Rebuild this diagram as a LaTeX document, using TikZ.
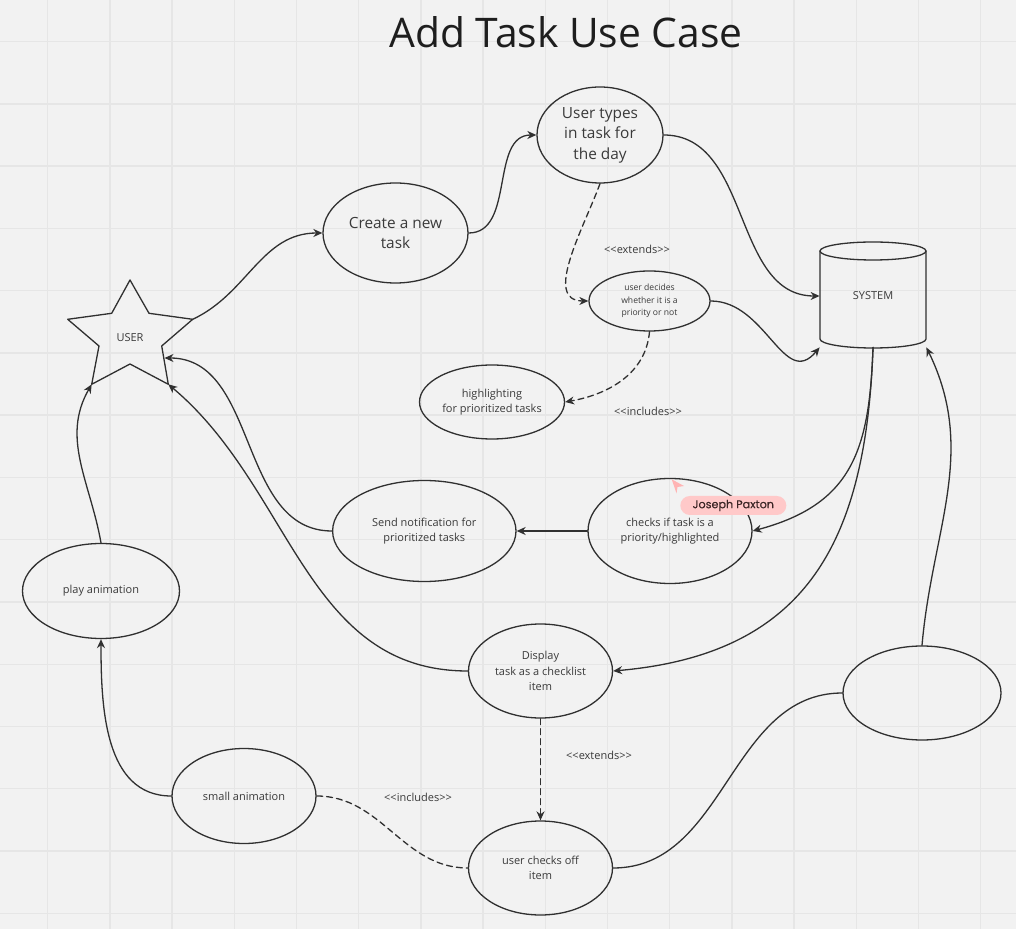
\documentclass[tikz,border=0pt]{standalone}
\usepackage{fontspec}
\setmainfont{Open Sans}
\newfontfamily\tagfont{Poppins}[FakeBold=0.35]
\usetikzlibrary{arrows.meta,shapes.geometric}
\definecolor{bgcol}{HTML}{F2F2F2}
\definecolor{gridcol}{HTML}{E6E6E6}
\definecolor{inkcol}{HTML}{303030}
\definecolor{textcol}{HTML}{3A3A3A}
\definecolor{titlecol}{HTML}{1E1E1E}
\definecolor{tagpink}{HTML}{FFC9C9}
\definecolor{cursorpink}{HTML}{FFB4B4}
\definecolor{tagtext}{HTML}{3B2626}
\newcommand{\stereo}[1]{<\kern0pt<#1>\kern0pt>}

\begin{document}
\begin{tikzpicture}[line cap=round,line join=round,x=0.5pt,y=-0.5pt,
	ucase/.style={draw=inkcol,line width=0.65pt,ellipse,inner sep=0pt,align=center,text=textcol},
	txtbig/.style={font=\fontsize{7.7}{10.3}\selectfont},
	txtsmall/.style={font=\fontsize{5.5}{7.8}\selectfont},
	txttiny/.style={font=\fontsize{4.3}{6.25}\selectfont},
	assoc/.style={draw=inkcol,line width=0.65pt,-{Stealth[length=4.5pt,width=4pt]}},
	assocplain/.style={draw=inkcol,line width=0.65pt},
	dashrel/.style={dash pattern=on 3pt off 2pt}]
			\useasboundingbox (0,0) rectangle (1016,929);
			\fill [bgcol] (0,0) rectangle (1016,929);
			\foreach \gx in {0,...,15}
				\draw [gridcol,line width=0.7pt] ({47.6+62.2*\gx},0)-- ({47.6+62.2*\gx},929);
			\foreach \gy in {0,...,14}
				\draw [gridcol,line width=0.7pt] (0,{41.7+62.25*\gy})-- (1016,{41.7+62.25*\gy});
			\node [font=\fontsize{20.4}{24}\selectfont,text=titlecol] (title) at (566,32) {Add Task Use Case};
			% actor
			\coordinate (user-top) at (130,280);
			\coordinate (user-iur) at (149,313.3);
			\coordinate (user-ur) at (192.7,319.3);
			\coordinate (user-ir) at (161.7,346);
			\coordinate (user-lr) at (168.3,384.3);
			\coordinate (user-ib) at (130,364);
			\coordinate (user-ll) at (91.7,384.3);
			\coordinate (user-il) at (99,346);
			\coordinate (user-ul) at (67.7,319.3);
			\coordinate (user-iul) at (111.7,313.3);
			\coordinate (user-r) at (164.5,358);
			\draw [inkcol,line width=0.65pt] (user-top)-- (user-iur)-- (user-ur)-- (user-ir)-- (user-lr)-- (user-ib)-- (user-ll)-- (user-il)-- (user-ul)-- (user-iul)-- cycle;
			\node [txtsmall,text=textcol] (user) at (130,338) {USER};
			% system
			\draw [inkcol,line width=0.65pt] (820,251)-- (820,339) arc [start angle=180,end angle=360,x radius=26.5pt,y radius=4.5pt]-- (926,251);
			\draw [inkcol,line width=0.65pt] (873,251) ellipse [x radius=26.5pt,y radius=4.5pt];
			\node [txtsmall,text=textcol,minimum width=53pt,minimum height=51pt,inner sep=0pt] (system) at (873,296) {SYSTEM};
			% use cases
			\node [ucase,txtbig,minimum width=72.5pt,minimum height=50pt] (create) at (395.5,233) {Create a new\\task};
			\node [ucase,txtbig,minimum width=63pt,minimum height=48pt] (types) at (600,135) {User types\\in task for\\the day};
			\node [ucase,txttiny,minimum width=60.5pt,minimum height=30pt] (decides) at (649.5,301) {user decides\\whether it is a\\priority or not};
			\node [ucase,txtsmall,minimum width=72.5pt,minimum height=37pt] (highlight) at (492,402) {highlighting\\for prioritized tasks};
			\node [ucase,txtsmall,minimum width=91.7pt,minimum height=50.5pt] (notify) at (424.3,531) {Send notification for\\prioritized tasks};
			\node [ucase,txtsmall,minimum width=82pt,minimum height=52.5pt] (checks) at (670,531) {checks if task is a\\priority/highlighted};
			\node [ucase,txtsmall,minimum width=78.5pt,minimum height=47.5pt] (play) at (101,591) {play animation};
			\node [ucase,txtsmall,minimum width=72pt,minimum height=47pt] (display) at (540.5,671) {Display\\task as a checklist\\item};
			\node [ucase,txtsmall,minimum width=72pt,minimum height=47.5pt] (smallanim) at (244,796) {small animation};
			\node [ucase,txtsmall,minimum width=72pt,minimum height=47pt] (checkoff) at (540.5,868) {user checks off\\item};
			\node [ucase,minimum width=79pt,minimum height=47pt] (blank) at (922,693) {};
			% stereotypes
			\node [txtsmall,text=textcol] (ext1) at (637,249.5) {\stereo{extends}};
			\node [txtsmall,text=textcol] (inc1) at (648,411.5) {\stereo{includes}};
			\node [txtsmall,text=textcol] (ext2) at (599,755.7) {\stereo{extends}};
			\node [txtsmall,text=textcol] (inc2) at (418,797.3) {\stereo{includes}};
			% connectors
			\draw [assoc] (user-ur) to [out=25,in=180] (create.west);
			\draw [assoc] (create.east) to [out=0,in=180] (types.west);
			\draw [assoc] (types.east) to [out=0,in=180] (system.west);
			\draw [assoc,dashrel] (types.south) to [out=-110,in=180] (decides.west);
			\draw [assoc] (decides.east) to [out=0,in=-130,looseness=1.2] (system.south west);
			\draw [assoc,dashrel] (decides.south) to [out=-95,in=10] (highlight.east);
			\draw [assoc] (system.south) to [out=-92,in=15,looseness=1.2] (checks.east);
			\draw [assoc] (system.south) to [out=-92,in=5,looseness=1.2] (display.east);
			\draw [assoc] (blank.north) to [out=85,in=-64] (system.south east);
			\draw [assoc] (checks.west)-- (notify.east);
			\draw [assoc] (notify.west) to [out=180,in=0] (user-r);
			\draw [assoc] (display.west) to [out=180,in=-40] (user-lr);
			\draw [assoc,dashrel] (display.south)-- (checkoff.north);
			\draw [assocplain,dashrel] (smallanim.east) to [out=0,in=180] (checkoff.west);
			\draw [assoc] (smallanim.west) to [out=180,in=-90] (play.south);
			\draw [assoc] (play.north) to [out=100,in=-120] (user-ll);
			\draw [assocplain] (checkoff.east) to [out=0,in=180] (blank.west);
			% cursor tag
			\fill [cursorpink] (671.7,479.3)-- (684,486)-- (677.5,487)-- (676.5,493.3)-- cycle;
			\node [fill=tagpink,rounded corners=4.75pt,minimum width=53pt,minimum height=9.5pt,inner sep=0pt,font=\tagfont\fontsize{5.6}{6}\selectfont,text=tagtext] (tag) at (733.3,505.5) {Joseph Paxton};
		\end{tikzpicture}
\end{document}
